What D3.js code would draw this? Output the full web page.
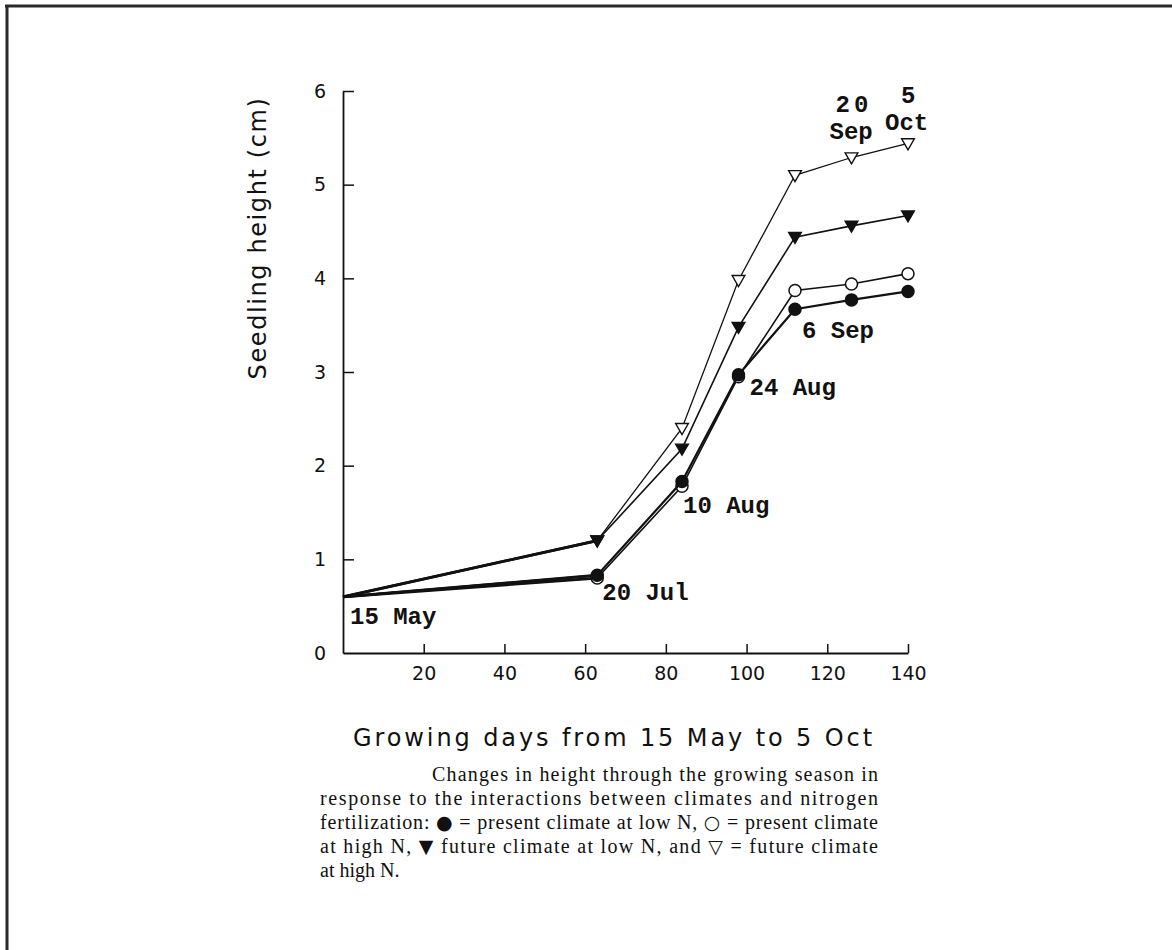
<!DOCTYPE html>
<html lang="en">
<head>
<meta charset="UTF-8" />
<title>Seedling height</title>
<script src="https://d3js.org/d3.v7.min.js"></script>
<style>
  body { margin: 0; background: #fff; }
  svg { display: block; }
  .tick text { font-family: "DejaVu Sans", sans-serif; font-size: 19px; fill: #111; }
  .ann { font-family: "Liberation Mono", monospace; font-weight: bold; font-size: 24px; fill: #111; }
  .caption { font-family: "Liberation Serif", serif; font-size: 20px; fill: #111; }
  .title { font-family: "DejaVu Sans", sans-serif; font-size: 24px; fill: #111; }
</style>
</head>
<body>
<svg id="chart" width="1172" height="950"></svg>
<script>
// data: growing days and heights (cm) per treatment
const days = [0, 63, 84, 98, 112, 126, 140];
const presentLowN  = [0.6, 0.83, 1.83, 2.97, 3.67, 3.77, 3.86];
const presentHighN = [0.6, 0.80, 1.78, 2.95, 3.87, 3.94, 4.05];
const futureLowN   = [0.6, 1.20, 2.18, 3.48, 4.44, 4.56, 4.67];
const futureHighN  = [0.6, 1.20, 2.40, 3.98, 5.10, 5.29, 5.44];
const xTicks = [20, 40, 60, 80, 100, 120, 140];
const yTicks = [0, 1, 2, 3, 4, 5, 6];
const dateLabels = ["15 May", "20 Jul", "10 Aug", "24 Aug", "6 Sep", "20 Sep", "5 Oct"];
const captionLines = [
  "Changes in height through the growing season in",
  "response to the interactions between climates and nitrogen",
  "fertilization: \u25CF = present climate at low N, \u25CB = present climate",
  "at high N, \u25BC future climate at low N, and \u25BD = future climate",
  "at high N."
];

const svg = d3.select("#chart");

// page frame (top + left edge of scanned box)
svg.append("line").attr("x1", 5).attr("x2", 1172).attr("y1", 6).attr("y2", 6)
  .attr("stroke", "#2a2a2a").attr("stroke-width", 3);
svg.append("line").attr("x1", 7).attr("x2", 7).attr("y1", 5).attr("y2", 950)
  .attr("stroke", "#2a2a2a").attr("stroke-width", 3);

const x = d3.scaleLinear().domain([0, 140]).range([343, 908]);
const y = d3.scaleLinear().domain([0, 6]).range([653, 91]);

const xAxis = svg.append("g").attr("transform", `translate(0,${y(0)})`)
  .call(d3.axisBottom(x).tickValues(xTicks).tickFormat(d3.format("d"))
    .tickSizeInner(-9).tickSizeOuter(0).tickPadding(14));
const yAxis = svg.append("g").attr("transform", `translate(${x(0)},0)`)
  .call(d3.axisLeft(y).tickValues(yTicks).tickFormat(d3.format("d"))
    .tickSizeInner(-11).tickSizeOuter(0).tickPadding(17));
[xAxis, yAxis].forEach(a => {
  a.select(".domain").attr("stroke", "#111").attr("stroke-width", 1.8);
  a.selectAll(".tick line").attr("stroke", "#111").attr("stroke-width", 1.5);
});
yAxis.selectAll(".tick").filter(d => d === 0).select("line").remove();

// axis titles
svg.append("text").attr("class", "title")
  .attr("transform", `translate(266,238) rotate(-90)`)
  .attr("text-anchor", "middle").attr("letter-spacing", 1.6)
  .text("Seedling height (cm)");
svg.append("text").attr("class", "title")
  .attr("x", 614).attr("y", 746).attr("text-anchor", "middle").attr("letter-spacing", 2.9)
  .text("Growing days from 15 May to 5 Oct");

const series = [
  { vals: presentHighN, marker: "circle", fill: "#fff", w: 1.6 },
  { vals: presentLowN,  marker: "circle", fill: "#111", w: 2.2 },
  { vals: futureHighN,  marker: "tri",    fill: "#fff", w: 1.3 },
  { vals: futureLowN,   marker: "tri",    fill: "#111", w: 1.6 }
];

const line = d3.line().x(d => x(d[0])).y(d => y(d[1]));
const tri = d3.symbol().type(d3.symbolTriangle).size(70);

series.forEach(s => {
  const pts = days.map((d, i) => [d, s.vals[i]]);
  svg.append("path").attr("d", line(pts)).attr("fill", "none")
    .attr("stroke", "#111").attr("stroke-width", s.w);
  // heavier first segment as in the print
  svg.append("path").attr("d", line(pts.slice(0, 2))).attr("fill", "none")
    .attr("stroke", "#111").attr("stroke-width", 2.8);
  const g = svg.append("g");
  pts.slice(1).forEach(p => {
    if (s.marker === "circle") {
      g.append("circle").attr("cx", x(p[0])).attr("cy", y(p[1])).attr("r", 6)
        .attr("fill", s.fill).attr("stroke", "#111").attr("stroke-width", 1.5);
    } else {
      g.append("path").attr("d", tri)
        .attr("transform", `translate(${x(p[0])},${y(p[1]) - 1}) rotate(180)`)
        .attr("fill", s.fill).attr("stroke", "#111").attr("stroke-width", 1.4);
    }
  });
});

// date annotations, anchored to the data points
const ann = [
  { i: 0, v: presentLowN, dx: 7, dy: 27, lines: [dateLabels[0]] },
  { i: 1, v: presentLowN, dx: 5, dy: 25, lines: [dateLabels[1]] },
  { i: 2, v: presentLowN, dx: 1, dy: 31, lines: [dateLabels[2]] },
  { i: 3, v: presentLowN, dx: 11, dy: 20, lines: [dateLabels[3]] },
  { i: 4, v: presentLowN, dx: 7, dy: 29, lines: [dateLabels[4]] },
  { i: 5, v: futureHighN, dx: -22, dy: -46, lines: ["20", "Sep"], off: 6 },
  { i: 6, v: futureHighN, dx: -23, dy: -40, lines: ["5", "Oct"], off: 16 }
];
ann.forEach(a => {
  const x0 = x(days[a.i]) + a.dx, y0 = y(a.v[a.i]) + a.dy;
  if (a.lines.length === 1) {
    svg.append("text").attr("class", "ann").attr("x", x0).attr("y", y0).text(a.lines[0]);
  } else {
    svg.append("text").attr("class", "ann").attr("x", x0 + a.off).attr("y", y0)
      .attr("letter-spacing", a.i === 5 ? 4 : 0).text(a.lines[0]);
    svg.append("text").attr("class", "ann").attr("x", x0).attr("y", y0 + 27).text(a.lines[1]);
  }
});

// caption, justified; legend symbols drawn a bit larger like the print
const cap = svg.append("g").attr("class", "caption");
const symbols = /([\u25CF\u25CB\u25BC\u25BD])/;
captionLines.forEach((l, i) => {
  const t = cap.append("text").attr("x", i === 0 ? 432 : 320).attr("y", 781 + i * 24);
  l.split(symbols).filter(p => p.length).forEach(p => {
    const sp = t.append("tspan").text(p);
    if (symbols.test(p)) sp.attr("font-size", 19).attr("font-family", "DejaVu Sans");
  });
  if (i < captionLines.length - 1) {
    t.attr("textLength", i === 0 ? 446 : 558).attr("lengthAdjust", "spacing");
  }
});
</script>
</body>
</html>
